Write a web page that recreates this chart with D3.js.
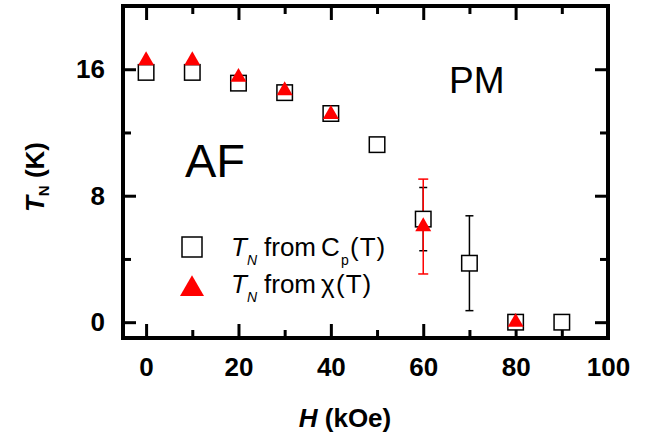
<!DOCTYPE html>
<html><head><meta charset="utf-8">
<script src="https://cdn.jsdelivr.net/npm/d3@7"></script>
<style>body{margin:0;background:#fff} svg text{font-family:"Liberation Sans",Arial,sans-serif}</style>
</head><body><svg id="c" width="665" height="439"></svg>
<script>
// ---- data ----
const fieldCp = [0, 10, 20, 30, 40, 50, 60, 70, 80, 90];
const tnCp    = [15.8, 15.8, 15.12, 14.52, 13.2, 11.23, 6.52, 3.73, 0, 0];
const errCp   = [0, 0, 0, 0, 0, 0, 2, 3, 0, 0];
const fieldChi = [0, 10, 20, 30, 40, 60, 80];
const tnChi    = [16.55, 16.55, 15.5, 14.65, 13.15, 6.05, 0];
const errChi   = [0, 0, 0, 0, 0, 3, 0];
const xMajor = [0, 20, 40, 60, 80, 100];
const xMinor = [10, 30, 50, 70, 90];
const yMajor = [0, 8, 16];
const yMinor = [4, 12, 20];

const svg = d3.select("#c");
const L = 123, R = 608, T = 6, B = 338;
const x = d3.scaleLinear().domain([-5, 100]).range([L, R]);
const y = d3.scaleLinear().domain([-1, 20]).range([B, T]);

const cp = fieldCp.map((f, i) => ({x: f, y: tnCp[i], e: errCp[i]}));
const chi = fieldChi.map((f, i) => ({x: f, y: tnChi[i], e: errChi[i]}));

function styleAxis(g) {
  g.select(".domain").remove();
  g.selectAll(".tick line").attr("stroke", "#000").attr("stroke-width", 3);
  g.selectAll(".tick text").attr("font-size", 26).attr("font-weight", "bold").attr("fill", "#000")
   .style("font-family", '"Liberation Sans",Arial,sans-serif');
}
svg.append("g").attr("transform", `translate(0,${B})`)
  .call(d3.axisBottom(x).tickValues(xMajor).tickSizeInner(-14).tickSizeOuter(0).tickPadding(20).tickFormat(d3.format("d")))
  .call(styleAxis);
svg.append("g").attr("transform", `translate(0,${B})`)
  .call(d3.axisBottom(x).tickValues(xMinor).tickSizeInner(-8).tickSizeOuter(0).tickFormat(""))
  .call(styleAxis);
svg.append("g").attr("transform", `translate(0,${T})`)
  .call(d3.axisTop(x).tickValues(xMajor).tickSizeInner(-14).tickSizeOuter(0).tickFormat(""))
  .call(styleAxis);
svg.append("g").attr("transform", `translate(0,${T})`)
  .call(d3.axisTop(x).tickValues(xMinor).tickSizeInner(-8).tickSizeOuter(0).tickFormat(""))
  .call(styleAxis);
svg.append("g").attr("transform", `translate(${L},0)`)
  .call(d3.axisLeft(y).tickValues(yMajor).tickSizeInner(-13).tickSizeOuter(0).tickPadding(18).tickFormat(d3.format("d")))
  .call(styleAxis);
svg.append("g").attr("transform", `translate(${L},0)`)
  .call(d3.axisLeft(y).tickValues(yMinor).tickSizeInner(-8).tickSizeOuter(0).tickFormat(""))
  .call(styleAxis);
svg.append("g").attr("transform", `translate(${R},0)`)
  .call(d3.axisRight(y).tickValues(yMajor).tickSizeInner(-13).tickSizeOuter(0).tickFormat(""))
  .call(styleAxis);
svg.append("g").attr("transform", `translate(${R},0)`)
  .call(d3.axisRight(y).tickValues(yMinor).tickSizeInner(-8).tickSizeOuter(0).tickFormat(""))
  .call(styleAxis);

svg.append("rect").attr("x", L).attr("y", T).attr("width", R - L).attr("height", B - T)
  .attr("fill", "none").attr("stroke", "#000").attr("stroke-width", 4);

function errBars(data, color, cap) {
  const g = svg.append("g").attr("stroke", color).attr("stroke-width", 1.5);
  const d = data.filter(p => p.e > 0);
  g.selectAll("line.v").data(d).join("line").attr("class", "v")
    .attr("x1", p => x(p.x)).attr("x2", p => x(p.x))
    .attr("y1", p => y(p.y + p.e)).attr("y2", p => y(p.y - p.e));
  g.selectAll("line.t").data(d).join("line").attr("class", "t")
    .attr("x1", p => x(p.x) - cap).attr("x2", p => x(p.x) + cap)
    .attr("y1", p => y(p.y + p.e)).attr("y2", p => y(p.y + p.e));
  g.selectAll("line.b").data(d).join("line").attr("class", "b")
    .attr("x1", p => x(p.x) - cap).attr("x2", p => x(p.x) + cap)
    .attr("y1", p => y(p.y - p.e)).attr("y2", p => y(p.y - p.e));
}
errBars(cp, "#000", 4);
errBars(chi, "#ff0000", 5);

const sq = 15.5;
svg.append("g").selectAll("rect").data(cp).join("rect")
  .attr("x", p => x(p.x) - sq / 2).attr("y", p => y(p.y) - sq / 2)
  .attr("width", sq).attr("height", sq)
  .attr("fill", "#fff").attr("stroke", "#000").attr("stroke-width", 1.5);

const tri = d3.symbol().type(d3.symbolTriangle).size(111);
svg.append("g").selectAll("path").data(chi).join("path")
  .attr("d", tri).attr("transform", p => `translate(${x(p.x)},${y(p.y)})`)
  .attr("fill", "#ff0000");

svg.append("text").attr("x", 449).attr("y", 93).attr("font-size", 37).text("PM");
svg.append("text").attr("x", 185).attr("y", 177).attr("font-size", 47).text("AF");

// legend
svg.append("rect").attr("x", 182).attr("y", 237).attr("width", 20).attr("height", 20)
  .attr("fill", "#fff").attr("stroke", "#000").attr("stroke-width", 1.5);
svg.append("path").attr("d", d3.symbol().type(d3.symbolTriangle).size(249)())
  .attr("transform", "translate(192,289)").attr("fill", "#ff0000");

const l1 = svg.append("text").attr("y", 256).attr("font-size", 26);
l1.append("tspan").attr("x", 231).attr("font-style", "italic").text("T");
l1.append("tspan").attr("x", 247).attr("font-style", "italic").attr("font-size", 14).attr("dy", 9).text("N");
l1.append("tspan").attr("x", 264).attr("dy", -9).text("from");
l1.append("tspan").attr("x", 321).text("C");
l1.append("tspan").attr("x", 341).attr("font-size", 14).attr("dy", 9).text("p");
l1.append("tspan").attr("x", 350).attr("dy", -9).attr("letter-spacing", 1).text("(T)");

const l2 = svg.append("text").attr("y", 293).attr("font-size", 26);
l2.append("tspan").attr("x", 231).attr("font-style", "italic").text("T");
l2.append("tspan").attr("x", 247).attr("font-style", "italic").attr("font-size", 14).attr("dy", 9).text("N");
l2.append("tspan").attr("x", 264).attr("dy", -9).text("from");
l2.append("tspan").attr("x", 321).text("χ");
l2.append("tspan").attr("x", 336).attr("letter-spacing", 1).text("(T)");

// axis titles
const xl = svg.append("text").attr("x", 345).attr("y", 427).attr("text-anchor", "middle")
  .attr("font-size", 26).attr("font-weight", "bold");
xl.append("tspan").attr("font-style", "italic").text("H");
xl.append("tspan").text(" (kOe)");

const yl = svg.append("text").attr("transform", "translate(44,177) rotate(-90)")
  .attr("text-anchor", "middle").attr("font-size", 26).attr("font-weight", "bold");
yl.append("tspan").attr("font-style", "italic").text("T");
yl.append("tspan").attr("font-size", 15).attr("dy", 5).text("N");
yl.append("tspan").attr("dy", -5).text(" (K)");
</script></body></html>
